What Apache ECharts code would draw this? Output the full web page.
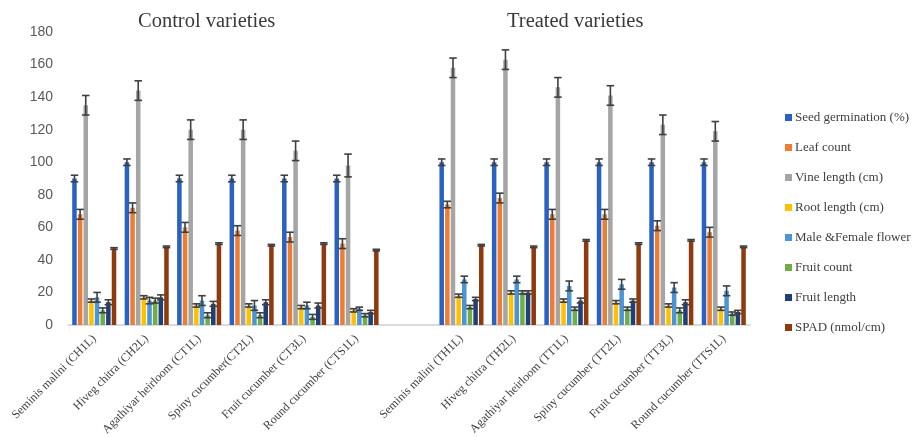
<!DOCTYPE html>
<html>
<head>
<meta charset="utf-8">
<title>Control and treated cucumber varieties</title>
<script src="https://cdn.jsdelivr.net/npm/echarts@6/dist/echarts.min.js"></script>
<style>
  html, body { margin: 0; padding: 0; background: #ffffff; }
  #chart { width: 917px; height: 437px; }
</style>
</head>
<body>
<div id="chart"></div>
<script>
// Varieties along the x axis; the blank entry separates control from treated.
const categories = [
  'Seminis malini (CH1L)', 'Hiveg chitra (CH2L)', 'Agathiyar heirloom (CT1L)',
  'Spiny cucumber(CT2L)', 'Fruit cucumber (CT3L)', 'Round cucumber (CTS1L)',
  '',
  'Seminis malini (TH1L)', 'Hiveg chitra (TH2L)', 'Agathiyar heirloom (TT1L)',
  'Spiny cucumber (TT2L)', 'Fruit cucumber (TT3L)', 'Round cucumber (TTS1L)'
];

const seriesNames = [
  'Seed germination (%)', 'Leaf count', 'Vine length (cm)', 'Root length (cm)',
  'Male &Female flower', 'Fruit count', 'Fruit length', 'SPAD (nmol/cm)'
];

// Mean values per variety
const seedGermination = [90, 100, 90, 90, 90, 90, null, 100, 100, 100, 100, 100, 100];
const leafCount       = [68, 72, 60, 58, 54, 50, null, 74, 78, 68, 68, 61, 57];
const vineLength      = [135, 144, 120, 120, 107, 98, null, 158, 163, 146, 141, 123, 119];
const rootLength      = [15, 17, 12, 12, 11, 9, null, 18, 20, 15, 14, 12, 10];
const flowerCount     = [17, 15, 15, 12, 12, 10, null, 28, 28, 24, 25, 23, 21];
const fruitCount      = [9, 15, 6, 6, 5, 6, null, 11, 20, 10, 10, 9, 7];
const fruitLength     = [14, 17, 13, 14, 12, 8, null, 16, 20, 15, 15, 14, 8];
const spad            = [47, 48, 50, 49, 50, 46, null, 49, 48, 52, 50, 52, 48];

// Standard errors per variety
const seedErr   = [2, 2, 2, 2, 2, 2, null, 2, 2, 2, 2, 2, 2];
const leafErr   = [3, 3, 3, 3, 3, 3, null, 2, 3, 3, 3, 3, 3];
const vineErr   = [6, 6, 6, 6, 6, 7, null, 6, 6, 6, 6, 6, 6];
const rootErr   = [1, 1, 1, 1, 1, 1, null, 1, 1, 1, 1, 1, 1];
const flowerErr = [3, 2, 3, 3, 2, 1, null, 2, 2, 3, 3, 3, 3];
const fruitCountErr  = [1.5, 1.5, 1.5, 1.5, 1.5, 1, null, 1, 1, 1, 1, 1.5, 1];
const fruitLengthErr = [1.5, 1.5, 1.5, 1.5, 1.5, 1, null, 1, 1, 1.5, 1, 1.5, 1];
const spadErr   = [0.5, 0.5, 0.5, 0.5, 0.5, 0.5, null, 0.5, 0.5, 0.5, 0.5, 0.5, 0.5];

const yTicks = { min: 0, max: 180, interval: 20 };

const values = [seedGermination, leafCount, vineLength, rootLength, flowerCount, fruitCount, fruitLength, spad];
const errors = [seedErr, leafErr, vineErr, rootErr, flowerErr, fruitCountErr, fruitLengthErr, spadErr];
const colors = ['#2A62C4', '#ED7D31', '#A5A5A5', '#FFC000', '#4A95D6', '#70AD47', '#1F3F78', '#8E3A0C'];

const CAT_GAP = 0.16;   // fraction of each band left empty
const BAR_GAP = 0.25;   // gap between bars, fraction of a bar width
const N = seriesNames.length;

const barSeries = seriesNames.map((name, i) => ({
  name,
  type: 'bar',
  data: values[i].map(v => (v === null ? '-' : v)),
  barGap: (BAR_GAP * 100) + '%',
  barCategoryGap: (CAT_GAP * 100) + '%',
  itemStyle: { color: colors[i] },
  emphasis: { disabled: true },
  z: 2
}));

// Error bar items: [categoryIndex, seriesIndex, low, high]
const errorData = [];
values.forEach((arr, s) => {
  arr.forEach((v, c) => {
    if (v === null) return;
    const e = errors[s][c];
    errorData.push([c, s, v - e, v + e]);
  });
});

const errorSeries = {
  type: 'custom',
  name: 'errors',
  data: errorData,
  encode: { x: 0, y: [2, 3] },
  z: 5,
  silent: true,
  renderItem: function (params, api) {
    const c = api.value(0);
    const s = api.value(1);
    const bandW = api.size([1, 0])[0];
    const usable = bandW * (1 - CAT_GAP);
    const bw = usable / (N + (N - 1) * BAR_GAP);
    const center = api.coord([c, 0])[0];
    const x = center - usable / 2 + s * bw * (1 + BAR_GAP) + bw / 2;
    const yLow = api.coord([c, api.value(2)])[1];
    const yHigh = api.coord([c, api.value(3)])[1];
    const half = bw / 2 + 1.5;
    const style = { stroke: '#3f3f3f', lineWidth: 1.6 };
    return {
      type: 'group',
      children: [
        { type: 'line', shape: { x1: x, y1: yLow, x2: x, y2: yHigh }, style },
        { type: 'line', shape: { x1: x - half, y1: yHigh, x2: x + half, y2: yHigh }, style },
        { type: 'line', shape: { x1: x - half, y1: yLow, x2: x + half, y2: yLow }, style }
      ]
    };
  }
};

const chart = echarts.init(document.getElementById('chart'), null, { renderer: 'canvas' });

chart.setOption({
  animation: false,
  backgroundColor: '#ffffff',
  grid: {
    left: 68, right: 167, top: 32, bottom: 112,
    containLabel: false,
    outerBoundsMode: 'none'
  },
  graphic: [
    {
      type: 'text', left: 138, top: 11,
      style: { text: 'Control varieties', font: '20.5px "Liberation Serif"', fill: '#3a3a3a' }
    },
    {
      type: 'text', left: 507, top: 11,
      style: { text: 'Treated varieties', font: '20.5px "Liberation Serif"', fill: '#3a3a3a' }
    }
  ],
  legend: {
    data: seriesNames,
    orient: 'vertical',
    left: 780,
    top: 106,
    itemWidth: 7,
    itemHeight: 7,
    itemGap: 17,
    icon: 'rect',
    selectedMode: false,
    textStyle: { fontFamily: 'Liberation Serif', fontSize: 13, color: '#404040', padding: [0, 0, 0, -2] }
  },
  xAxis: {
    type: 'category',
    data: categories,
    axisTick: { show: false },
    axisLine: { lineStyle: { color: '#D0D0D0', width: 1.5 } },
    axisLabel: {
      interval: 0,
      rotate: 45,
      margin: 12,
      fontFamily: 'Liberation Serif',
      fontSize: 12,
      color: '#404040'
    }
  },
  yAxis: {
    type: 'value',
    min: yTicks.min,
    max: yTicks.max,
    interval: yTicks.interval,
    splitLine: { show: false },
    axisLine: { show: false },
    axisTick: { show: false },
    axisLabel: { margin: 15, fontFamily: 'Liberation Sans', fontSize: 14, color: '#595959' }
  },
  series: barSeries.concat([errorSeries])
});
</script>
</body>
</html>
